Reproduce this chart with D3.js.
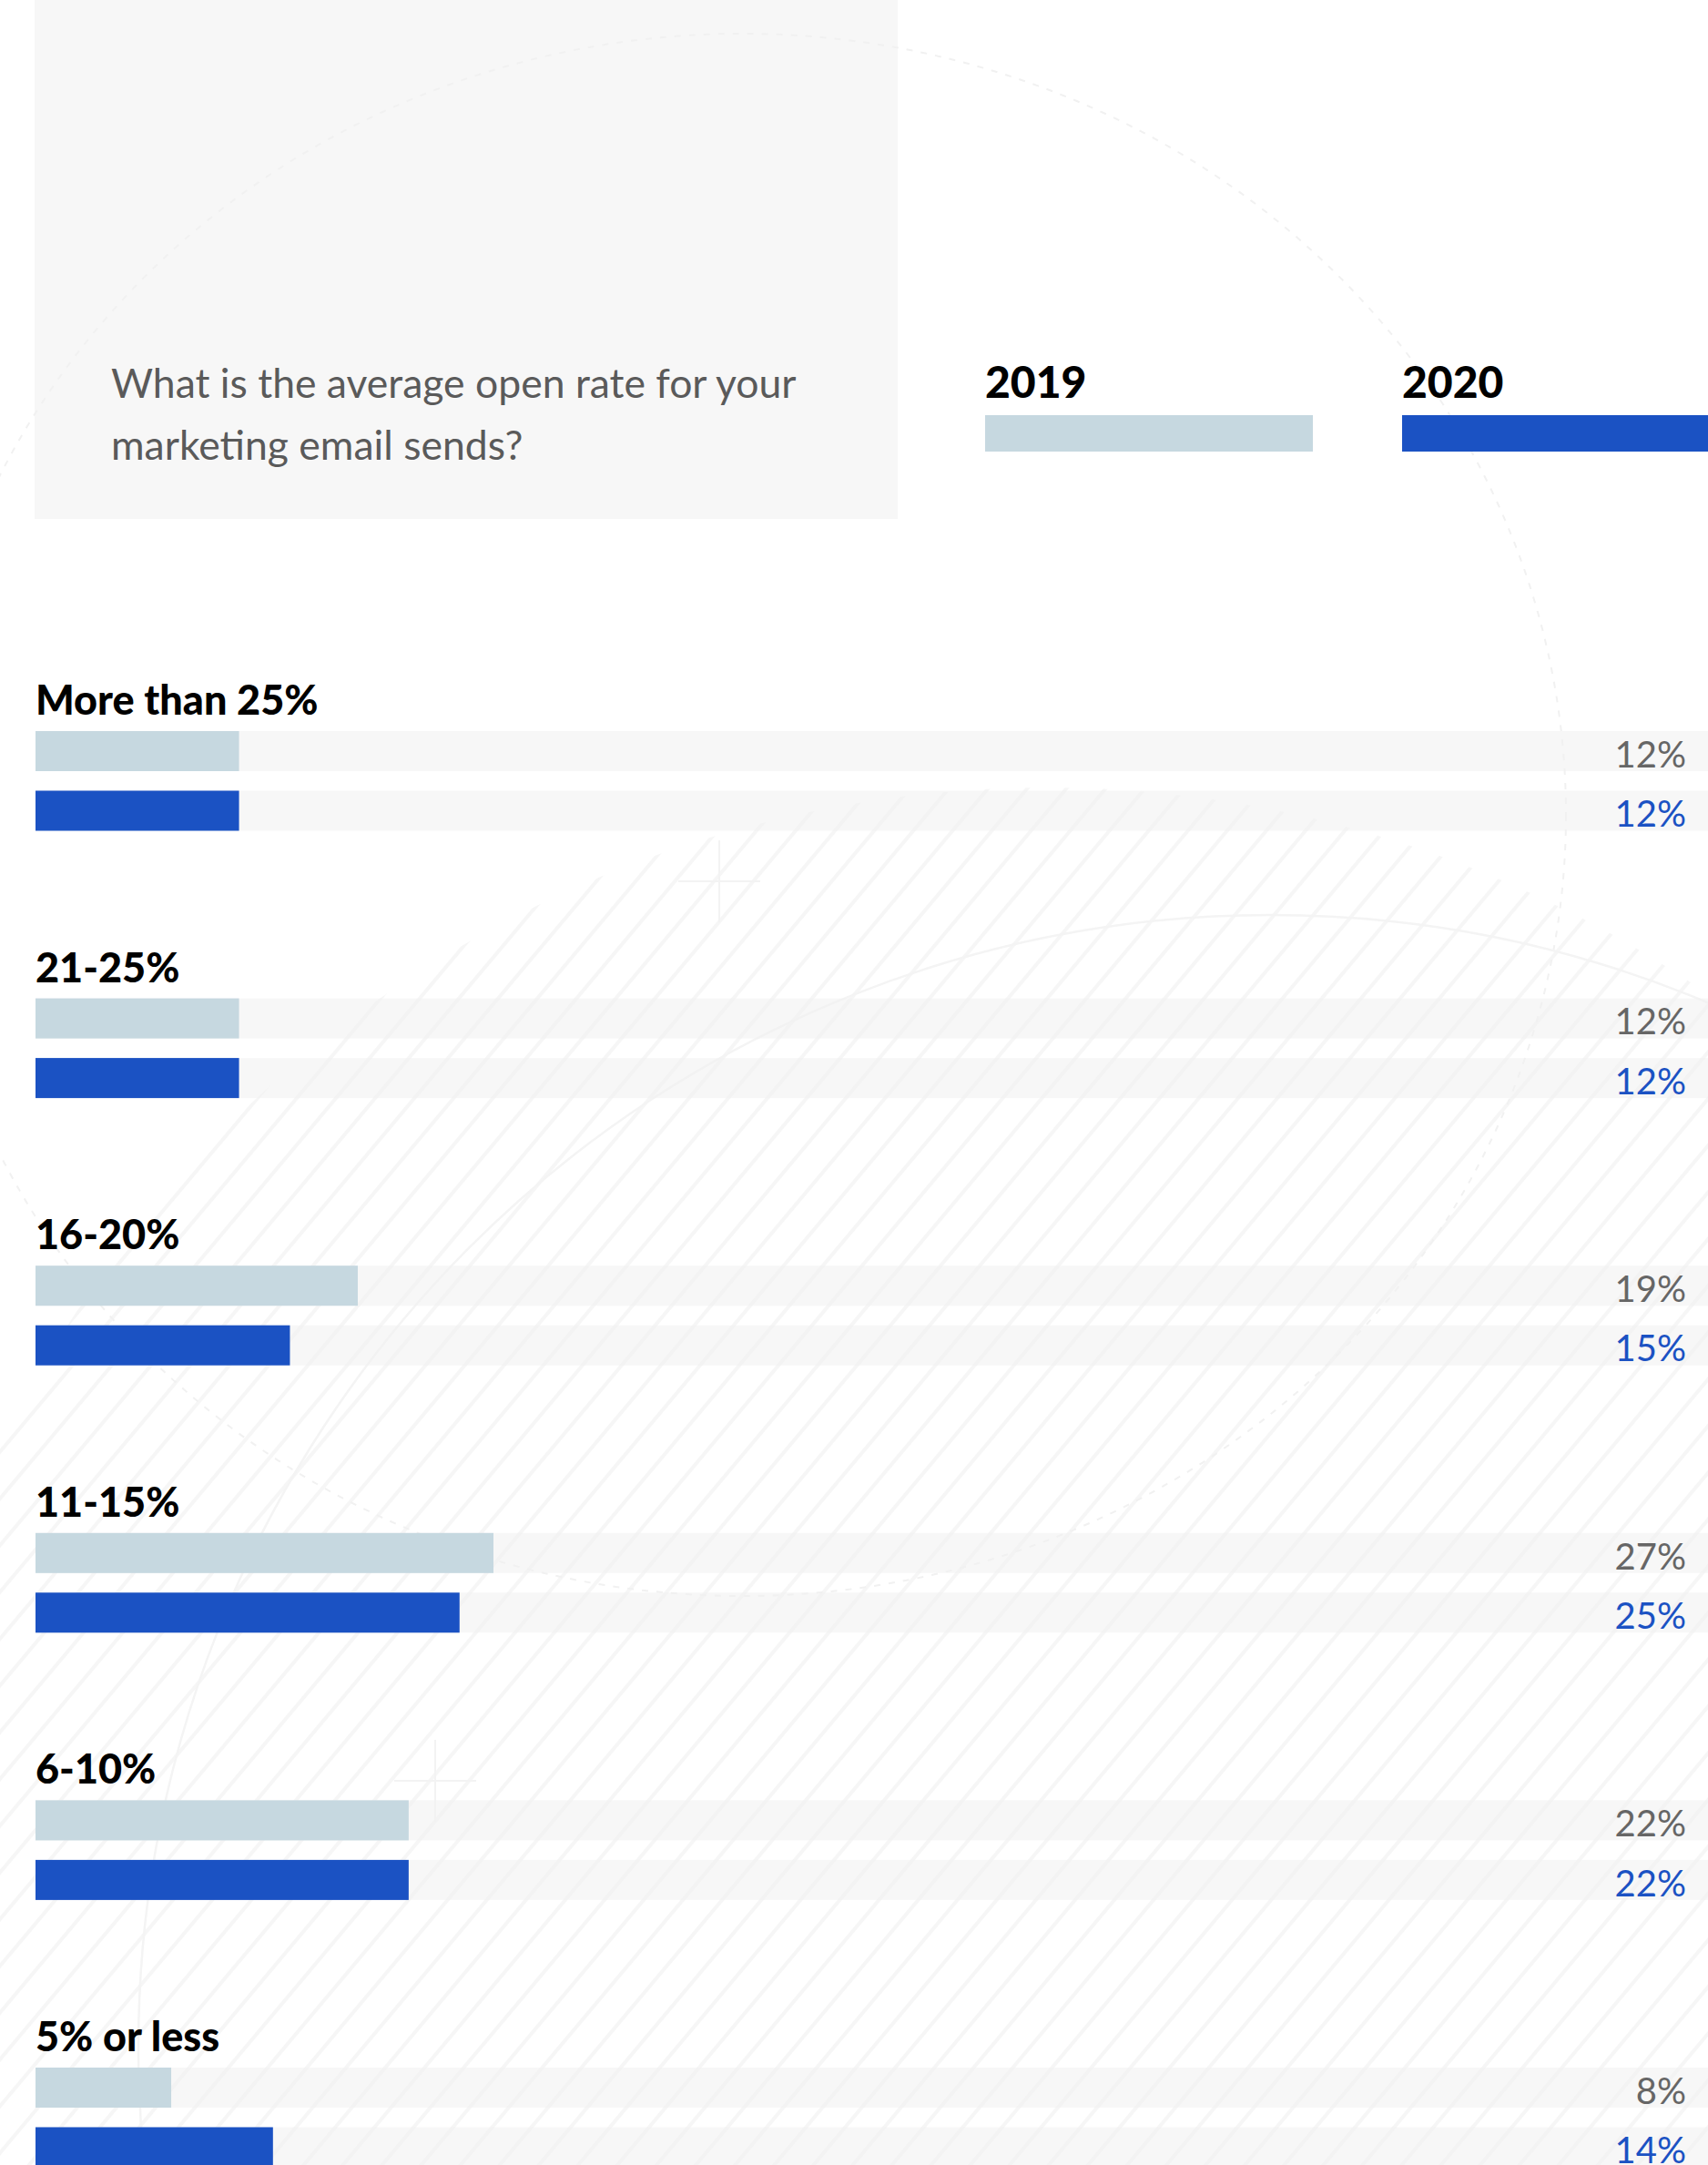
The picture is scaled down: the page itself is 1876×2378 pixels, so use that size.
<!DOCTYPE html>
<html>
<head>
<meta charset="utf-8">
<script src="https://cdn.jsdelivr.net/npm/d3@7"></script>
<style>
  html, body { margin: 0; padding: 0; background: #ffffff; overflow: hidden; }
  svg { display: block; }
</style>
</head>
<body>
<svg id="chart"></svg>
<script>
// Survey answers: average open rate of marketing email sends
const categories = ["More than 25%", "21-25%", "16-20%", "11-15%", "6-10%", "5% or less"];
const years = ["2019", "2020"];
const values2019 = [12, 12, 19, 27, 22, 8];
const values2020 = [12, 12, 15, 25, 22, 14];
const question = ["What is the average open rate for your", "marketing email sends?"];

const W = 1876, H = 2378;
const FONT = "Lato, 'Open Sans', sans-serif";
const colors = { "2019": "#c6d8e0", "2020": "#1b52c3" };
const labelColors = { "2019": "#666666", "2020": "#1b52c3" };

const svg = d3.select("#chart").attr("width", W).attr("height", H);
const defs = svg.append("defs");

// diagonal hatching used behind the lower part of the chart
const pat = defs.append("pattern")
  .attr("id", "hatch")
  .attr("patternUnits", "userSpaceOnUse")
  .attr("width", 33).attr("height", 20)
  .attr("patternTransform", "rotate(40)");
pat.append("rect").attr("x", 0).attr("y", 0).attr("width", 4).attr("height", 20).attr("fill", "#f6f6f6");

defs.append("clipPath").attr("id", "hatchClip")
  .append("circle").attr("cx", 1150).attr("cy", 2140).attr("r", 1275);

// ---- background decoration ----
const deco = svg.append("g");
deco.append("rect")
  .attr("x", 0).attr("y", 0).attr("width", W).attr("height", H)
  .attr("fill", "url(#hatch)")
  .attr("clip-path", "url(#hatchClip)");

// question panel
svg.append("rect")
  .attr("x", 38).attr("y", 0).attr("width", 948).attr("height", 570)
  .attr("fill", "#f7f7f7");

const lines = svg.append("g").attr("fill", "none");
lines.append("ellipse")
  .attr("cx", 815).attr("cy", 895).attr("rx", 905).attr("ry", 858)
  .attr("stroke", "#f1f1f1").attr("stroke-width", 2)
  .attr("stroke-dasharray", "7 9");
lines.append("circle")
  .attr("cx", 1396).attr("cy", 2249).attr("r", 1244)
  .attr("stroke", "#f4f4f4").attr("stroke-width", 2.5);
[[790, 968], [478, 1956]].forEach(([cx, cy]) => {
  lines.append("path")
    .attr("d", `M${cx - 45},${cy}H${cx + 45}M${cx},${cy - 45}V${cy + 45}`)
    .attr("stroke", "#f3f3f3").attr("stroke-width", 2);
});

// ---- question text ----
const q = svg.append("text")
  .attr("font-family", FONT).attr("font-size", 44.5)
  .attr("fill", "#5a5a5a");
question.forEach((t, i) => {
  q.append("tspan").attr("x", 122).attr("y", 437 + i * 68).text(t);
});

// ---- legend ----
const legendX = d3.scalePoint().domain(years).range([1082, 1540]);
const legend = svg.append("g");
years.forEach(y => {
  legend.append("text")
    .attr("x", legendX(y)).attr("y", 437)
    .attr("font-family", FONT).attr("font-weight", 900).attr("font-size", 48)
    .attr("fill", "#000").text(y);
  legend.append("rect")
    .attr("x", legendX(y)).attr("y", 456)
    .attr("width", y === "2019" ? 360 : W - legendX(y)).attr("height", 40)
    .attr("fill", colors[y]);
});

// ---- bars ----
const x = d3.scaleLinear().domain([0, 100]).range([39, 1902]);
const yGroup = d3.scaleBand().domain(categories).range([803, 803 + 6 * 293.6]);
const yInner = d3.scaleBand().domain(years).range([0, 109.5]).paddingInner(0.328);

const rows = categories.map((c, i) => ({
  category: c,
  items: [
    { year: "2019", value: values2019[i] },
    { year: "2020", value: values2020[i] }
  ]
}));

const groups = svg.append("g").selectAll("g")
  .data(rows).join("g")
  .attr("transform", d => `translate(0,${yGroup(d.category)})`);

groups.append("text")
  .attr("x", 39).attr("y", -18)
  .attr("font-family", FONT).attr("font-weight", 900).attr("font-size", 45)
  .attr("fill", "#000")
  .text(d => d.category);

const bar = groups.selectAll("g.bar")
  .data(d => d.items).join("g").attr("class", "bar")
  .attr("transform", d => `translate(0,${yInner(d.year)})`);

bar.append("rect")
  .attr("x", x(0)).attr("width", W - x(0))
  .attr("height", yInner.bandwidth())
  .attr("fill", "#f0f0f0").attr("fill-opacity", 0.55);

bar.append("rect")
  .attr("x", x(0)).attr("width", d => x(d.value) - x(0))
  .attr("height", yInner.bandwidth())
  .attr("fill", d => colors[d.year]);

bar.append("text")
  .attr("x", 1852).attr("y", yInner.bandwidth() / 2 + 3)
  .attr("dy", "0.37em")
  .attr("text-anchor", "end")
  .attr("font-family", FONT).attr("font-size", 40)
  .attr("fill", d => labelColors[d.year])
  .text(d => d.value + "%");
</script>
</body>
</html>
